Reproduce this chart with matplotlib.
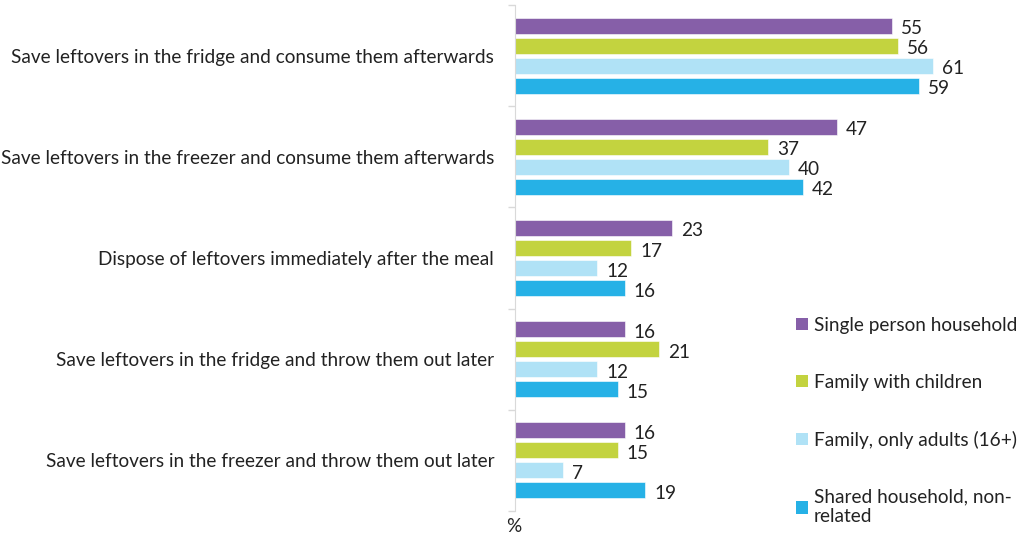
import matplotlib.pyplot as plt
import numpy as np
from matplotlib.patches import Patch

plt.rcParams['font.family'] = ['Lato', 'DejaVu Sans']

categories = ['Save leftovers in the fridge and consume them afterwards',
              'Save leftovers in the freezer and consume them afterwards',
              'Dispose of leftovers immediately after the meal',
              'Save leftovers in the fridge and throw them out later',
              'Save leftovers in the freezer and throw them out later']

series = ['Single person household', 'Family with children',
          'Family, only adults (16+)', 'Shared household, non-\nrelated']
single = [55, 47, 23, 16, 16]
children = [56, 37, 17, 21, 15]
adults = [61, 40, 12, 12, 7]
shared = [59, 42, 16, 15, 19]
colors = ['#865fa8', '#c3d33f', '#b0e2f6', '#26b1e6']

fs = 13.7
fig = plt.figure(figsize=(10.17, 5.34), dpi=100)
ax = fig.add_axes([515 / 1017, 1 - 511 / 534, 493 / 1017, 506 / 534])

y = np.arange(len(categories))
step = 0.198
for k, vals in enumerate([single, children, adults, shared]):
    pos = y + (k - 1.5) * step
    ax.barh(pos, vals, height=0.158, color=colors[k], edgecolor='white',
            linewidth=0.4, label=series[k])
    for p, v in zip(pos, vals):
        ax.text(v + 1.3, p + 0.03, str(v), va='center', ha='left',
                fontsize=fs, color='#222222')

ax.set_ylim(4.5, -0.5)
ax.set_xlim(0, 72)
ax.set_yticks(y)
ax.set_yticklabels(categories, fontsize=fs, color='#222222')
ax.set_yticks(np.arange(-0.5, 5, 1), minor=True)
ax.tick_params(axis='y', which='major', length=0, pad=15)
ax.tick_params(axis='y', which='minor', length=5, color='#d9d9d9', width=1)
ax.set_xticks([])
for s in ['top', 'right', 'bottom']:
    ax.spines[s].set_visible(False)
ax.spines['left'].set_color('#d9d9d9')

handles = [Patch(facecolor=c) for c in colors]
fig.legend(handles, series, loc='upper left', bbox_to_anchor=(788 / 1017, 1 - 309 / 534),
           frameon=False, fontsize=fs, handlelength=0.65, handleheight=0.65,
           handletextpad=0.3, labelspacing=2.1, borderaxespad=0, labelcolor='#222222')

fig.text(514 / 1017, 1 - 526 / 534, '%', ha='center', va='center', fontsize=fs, color='#222222')

fig.savefig('out.png', dpi=100)
